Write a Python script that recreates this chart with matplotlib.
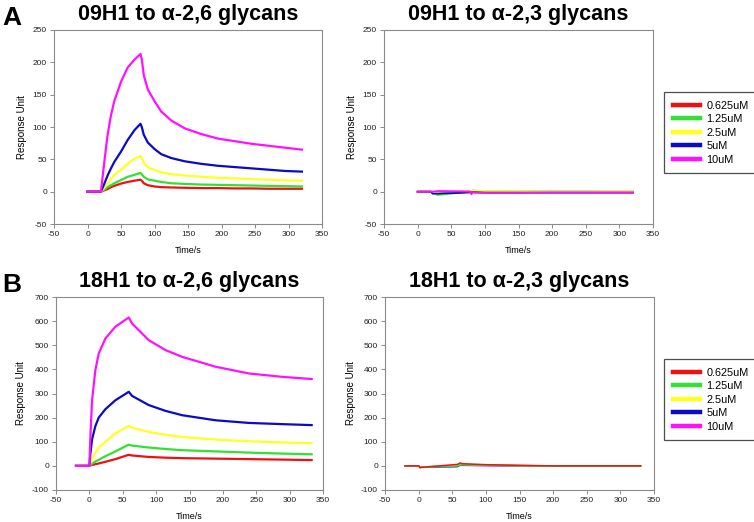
import matplotlib
matplotlib.use('Agg')
import matplotlib.pyplot as plt

plt.rcParams['font.family'] = ['Liberation Sans', 'DejaVu Sans']
plt.rcParams['axes.unicode_minus'] = False

labels = ['0.625uM', '1.25uM', '2.5uM', '5uM', '10uM']
colors = ['#ee1111', '#33e033', '#ffff22', '#0a0ac8', '#ff11ff']

# 09H1 to a-2,6 glycans
t_a26 = [0, 20, 25, 30, 35, 40, 50, 60, 70, 79, 81, 84, 90, 100, 110, 125, 145, 170, 195, 220, 245, 270, 295, 320]
a26 = {
    '0.625uM': [0, 0, 2, 4, 7, 9, 12.5, 15, 17, 18.5, 17, 13, 10, 8, 7, 6.5, 6, 5.5, 5.5, 5, 5, 4.5, 4.5, 4.5],
    '1.25uM':  [0, 0, 3, 7, 10, 13, 18, 23, 26, 29, 27, 23, 19, 17, 15, 13, 12, 11, 10.5, 10, 9.5, 9, 8.5, 8],
    '2.5uM':   [0, 0, 6, 13, 20, 26, 34, 43, 51, 55, 52, 45, 38, 33.5, 30, 27, 25, 23, 21.5, 20.5, 19.5, 18.5, 17.5, 17],
    '5uM':     [0, 0, 12, 25, 36, 46, 62, 80, 95, 105, 100, 88, 76, 66, 58, 52, 47, 43, 40, 38, 36, 34, 32, 31],
    '10uM':    [0, 0, 45, 88, 118, 140, 170, 192, 204, 213, 205, 180, 158, 140, 124, 110, 98, 89, 82, 78, 74, 71, 68, 65],
}

# 09H1 to a-2,3 glycans
t_a23 = [0, 20, 22, 30, 40, 60, 78, 80, 82, 85, 100, 150, 200, 250, 300, 320]
a23 = {
    '0.625uM': [0, 0, -1, -1, -0.5, 0, 0.5, 1, 1, 0.5, 0, 0, 0, 0, 0, 0],
    '1.25uM':  [0, 0, -2, -5, -4, -2, -1, -0.5, 2, 1.5, 1, 0, 0, 0, -0.5, -0.5],
    '2.5uM':   [0, 0, -1, -2, -1, 0, 0.5, 1, 2, 1.5, 1, 0.5, 0, 0, 0, 0],
    '5uM':     [0, 0, -3, -3, -2.5, -2, -1, -1, -1, -1, -1.5, -1.5, -1.5, -1.5, -1.5, -1.5],
    '10uM':    [0, 0, 0, 1, 1, 0.5, 0, -4, -1, -1.5, -2, -2, -1.5, -1.5, -1.5, -1.5],
}

# 18H1 to a-2,6 glycans
t_b26 = [-20, 0, 1.5, 4, 9, 14, 24, 39, 59, 64, 89, 114, 139, 189, 239, 289, 333]
b26 = {
    '0.625uM': [0, 0, 2, 4, 7, 10, 17, 28, 46, 43, 37, 34, 32, 30, 28, 26, 24],
    '1.25uM':  [0, 0, 4, 9, 18, 25, 40, 60, 88, 84, 76, 70, 65, 60, 55, 51, 48],
    '2.5uM':   [0, 0, 12, 30, 55, 75, 100, 135, 166, 158, 141, 129, 120, 109, 102, 97, 94],
    '5uM':     [0, 0, 50, 110, 165, 200, 235, 272, 307, 290, 252, 228, 210, 189, 178, 173, 169],
    '10uM':    [0, 0, 120, 272, 397, 466, 528, 577, 615, 590, 521, 480, 452, 411, 383, 369, 360],
}

# 18H1 to a-2,3 glycans
t_b23 = [-20, 0, 2, 5, 30, 58, 60, 62, 65, 100, 150, 200, 330]
b23 = {
    '0.625uM': [0, 0, -8, -6, 0, 6, 10, 12, 9, 5, 2, 0, 0],
    '1.25uM':  [0, 0, -4, -5, -3, -1, 3, 4, 4, 3, 1, 0, 0],
    '2.5uM':   [0, 0, -5, -5, -1, 3, 6, 7, 6, 4, 1, 0, 0],
    '5uM':     [0, 0, -5, -6, -4, -3, 2, 3, 3, 2, 1, 0, 0],
    '10uM':    [0, 0, -4, -4, -3, -2, 1, 2, 2, 1, 0, 0, 0],
}

W, H = 754, 522
fig = plt.figure(figsize=(W / 100, H / 100), dpi=100)


def make_ax(x0, x1, ytop, ybot):
    return fig.add_axes([x0 / W, 1 - ybot / H, (x1 - x0) / W, (ybot - ytop) / H])


def style(ax, title, ylim, yticks):
    ax.set_xlim(-50, 350)
    ax.set_xticks(range(-50, 351, 50))
    ax.set_ylim(*ylim)
    ax.set_yticks(yticks)
    for s in ax.spines.values():
        s.set_color('#8a8a8a')
        s.set_linewidth(0.8)
    ax.tick_params(direction='out', length=3, width=0.7, color='#8a8a8a',
                   labelsize=6, labelcolor='#222222', pad=2)
    ax.set_title(title, fontsize=15.5, fontweight='bold', pad=7)
    ax.set_xlabel('Time/s', fontsize=6.5, labelpad=6)
    ax.set_ylabel('Response Unit', fontsize=7, labelpad=4)


def draw(ax, t, series, lw, reverse=False):
    order = list(zip(labels, colors))
    if reverse:
        order = order[::-1]
    for lab, c in order:
        ax.plot(t, series[lab], color=c, lw=lw, label=lab, solid_joinstyle='round')


axA1 = make_ax(54, 322, 30, 224)
axA2 = make_ax(384, 653, 30, 224)
axB1 = make_ax(56, 323, 297, 490)
axB2 = make_ax(385, 654, 297, 490)

draw(axA1, t_a26, a26, 1.6)
draw(axA2, t_a23, a23, 1.3)
draw(axB1, t_b26, b26, 1.6)
draw(axB2, t_b23, b23, 1.1, reverse=True)

style(axA1, '09H1 to α-2,6 glycans', (-50, 250), range(-50, 251, 50))
style(axA2, '09H1 to α-2,3 glycans', (-50, 250), range(-50, 251, 50))
style(axB1, '18H1 to α-2,6 glycans', (-100, 700), range(-100, 701, 100))
style(axB2, '18H1 to α-2,3 glycans', (-100, 700), range(-100, 701, 100))

handles = [plt.Line2D([], [], color=c, lw=3.2) for c in colors]
for ytop in (92, 359):
    leg = fig.legend(handles, labels, loc='upper left',
                     bbox_to_anchor=(664 / W, 1 - ytop / H),
                     fontsize=7.8, frameon=True, fancybox=False,
                     handlelength=2.5, handletextpad=0.6, labelspacing=0.32,
                     borderpad=0.8, borderaxespad=0)
    leg.get_frame().set_edgecolor('#222222')
    leg.get_frame().set_linewidth(0.9)

fig.text(2 / W, 1 - 25 / H, 'A', fontsize=19, fontweight='bold', va='baseline')
fig.text(2 / W, 1 - 292 / H, 'B', fontsize=19, fontweight='bold', va='baseline')

fig.savefig('out.png', dpi=100)
